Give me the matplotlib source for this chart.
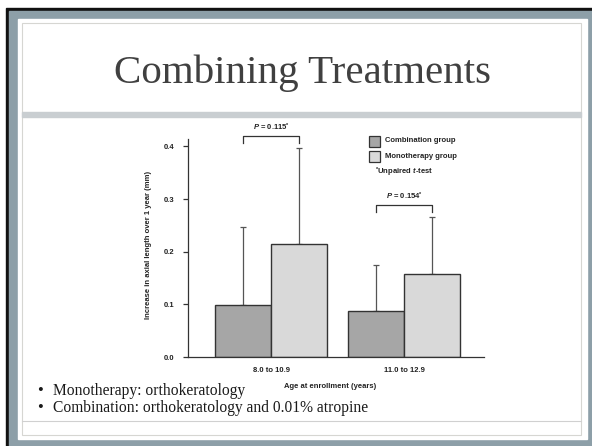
import numpy as np
import matplotlib
matplotlib.use('Agg')
import matplotlib.pyplot as plt
from matplotlib.patches import Rectangle

# Datos
groups = ['8.0 to 10.9', '11.0 to 12.9']
combination = [0.098, 0.088]
combination_sd = [0.148, 0.086]
monotherapy = [0.215, 0.157]
monotherapy_sd = [0.182, 0.109]
p_values = ['0.115', '0.154']
y_ticks = [0.0, 0.1, 0.2, 0.3, 0.4]
bullets = ['Monotherapy: orthokeratology',
           'Combination: orthokeratology and 0.01% atropine']

plt.rcParams['font.family'] = ['Liberation Sans', 'DejaVu Sans']
plt.rcParams['mathtext.fontset'] = 'custom'
plt.rcParams['mathtext.rm'] = 'Liberation Sans:bold'
plt.rcParams['mathtext.it'] = 'Liberation Sans:italic:bold'
plt.rcParams['mathtext.bf'] = 'Liberation Sans:bold'

W, H = 592, 446
fig = plt.figure(figsize=(W / 100, H / 100), dpi=100)

# Fondo de la diapositiva (coordenadas en píxeles)
bg = fig.add_axes([0, 0, 1, 1])
bg.set_xlim(0, W)
bg.set_ylim(H, 0)
bg.axis('off')
bg.add_patch(Rectangle((6, 8), 586, 438, color='#111111'))
bg.add_patch(Rectangle((9, 11), 583, 435, color='#8d9fa8'))
bg.add_patch(Rectangle((18, 19), 569, 420, color='white'))
bg.add_patch(Rectangle((22, 23), 559, 412, fill=False, ec='#d6d6d2', lw=0.8))
bg.add_patch(Rectangle((22, 112), 559, 5, color='#c9ced1'))
bg.plot([22, 581], [421, 421], color='#d0d0d0', lw=0.8)

bg.text(302, 83, 'Combining Treatments', ha='center', va='baseline',
        fontsize=29.5, family='Liberation Serif', color='#404040')

for i, b in enumerate(bullets):
    y = 391 + 17 * i
    bg.text(40, y, '•', ha='center', va='center', fontsize=12,
            family='Liberation Serif', color='#1a1a1a')
    bg.text(53, y, b, ha='left', va='center', fontsize=11.2,
            family='Liberation Serif', color='#1a1a1a')

# Etiquetas y leyenda del gráfico
txt = dict(fontsize=5.5, weight='bold', color='#222222')
bg.text(148, 245, 'Increase in axial length over 1 year (mm)', rotation=90,
        ha='center', va='center', **txt)
bg.text(330, 387, 'Age at enrollment (years)', ha='center', va='center', **txt)

comb_color = '#a6a6a6'
mono_color = '#d9d9d9'
edge = '#333333'
bg.add_patch(Rectangle((369, 135.5), 11, 11, fc=comb_color, ec=edge, lw=0.9))
bg.add_patch(Rectangle((369, 150.5), 11, 11, fc=mono_color, ec=edge, lw=0.9))
bg.text(385, 141, 'Combination group', ha='left', va='center', **txt)
bg.text(385, 156, 'Monotherapy group', ha='left', va='center', **txt)
bg.text(375, 172, r'$^{*}$Unpaired $\mathit{t}$-test', ha='left', va='center', **txt)

# Gráfico de barras
ax = fig.add_axes([188 / W, 1 - 357 / H, (484 - 188) / W, (357 - 138.5) / H])
ax.patch.set_alpha(0)
x = np.arange(len(groups))
w = 0.42
ax.bar(x - w / 2, combination, w, color=comb_color, edgecolor=edge, lw=1.0, zorder=2)
ax.bar(x + w / 2, monotherapy, w, color=mono_color, edgecolor=edge, lw=1.0, zorder=2)
ax.errorbar(x - w / 2, combination, yerr=[np.zeros(len(x)), combination_sd],
            fmt='none', ecolor='#555555', elinewidth=0.9, capsize=2.2, capthick=0.9, zorder=1)
ax.errorbar(x + w / 2, monotherapy, yerr=[np.zeros(len(x)), monotherapy_sd],
            fmt='none', ecolor='#555555', elinewidth=0.9, capsize=2.2, capthick=0.9, zorder=1)

# Corchetes con valores P
for i, p in enumerate(p_values):
    top = monotherapy[i] + monotherapy_sd[i] + 0.022
    ax.plot([x[i] - w / 2, x[i] - w / 2, x[i] + w / 2, x[i] + w / 2],
            [top - 0.012, top, top, top - 0.012], color='#333333', lw=0.9, clip_on=False)
    ax.text(x[i], top + 0.006, r'$\mathit{P}$ = ' + p + r'$^{*}$', ha='center',
            va='bottom', clip_on=False, **txt)

ax.set_xlim(-0.624, 1.6)
ax.set_ylim(0, 0.415)
ax.set_yticks(y_ticks, [f'{t:.1f}' for t in y_ticks])
ax.set_xticks(x, groups)
ax.tick_params(axis='y', direction='out', length=3.6, width=0.9, pad=6.5,
               labelsize=5.5, colors='#333333')
ax.tick_params(axis='x', length=0, pad=7, labelsize=5.5, colors='#333333')
for lab in ax.get_xticklabels() + ax.get_yticklabels():
    lab.set_fontweight('bold')
    lab.set_color('#222222')
for s in ['top', 'right']:
    ax.spines[s].set_visible(False)
for s in ['left', 'bottom']:
    ax.spines[s].set_color('#333333')
    ax.spines[s].set_linewidth(0.9)

fig.savefig('out.png', dpi=100)
